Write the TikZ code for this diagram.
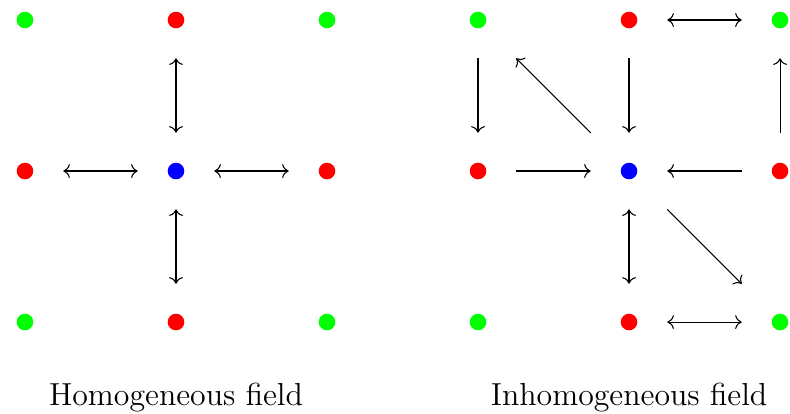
\documentclass[tikz,border=0pt]{standalone}
\usetikzlibrary{positioning, arrows.meta, calc}
\definecolor{fgreen}{RGB}{0,255,0}
\definecolor{fred}{RGB}{255,0,0}
\definecolor{fblue}{RGB}{0,0,255}
\tikzset{
  site/.style={circle, inner sep=0pt, minimum size=0.22cm},
  flow/.style={shorten <=0.39cm, shorten >=0.39cm},
  dflow/.style={shorten <=0.6cm, shorten >=0.6cm}
}

\begin{document}
\begin{tikzpicture}
    \useasboundingbox (-2.331,-3.205) rectangle (8.132,2.265);
    % homogeneous grid
    \node[site, fill=fgreen] (hTL) at (-2,2) {};
    \node[site, fill=fred]   (hT)  at (0,2) {};
    \node[site, fill=fgreen] (hTR) at (2,2) {};
    \node[site, fill=fred]   (hL)  at (-2,0) {};
    \node[site, fill=fblue]  (hC)  at (0,0) {};
    \node[site, fill=fred]   (hR)  at (2,0) {};
    \node[site, fill=fgreen] (hBL) at (-2,-2) {};
    \node[site, fill=fred]   (hB)  at (0,-2) {};
    \node[site, fill=fgreen] (hBR) at (2,-2) {};
    \draw[flow, <->] (hC) -- (hT);
    \draw[flow, <->] (hC) -- (hL);
    \draw[flow, <->] (hC) -- (hR);
    \draw[flow, <->] (hC) -- (hB);
    % inhomogeneous grid
    \node[site, fill=fgreen] (iTL) at (4,2) {};
    \node[site, fill=fred]   (iT)  at (6,2) {};
    \node[site, fill=fgreen] (iTR) at (8,2) {};
    \node[site, fill=fred]   (iL)  at (4,0) {};
    \node[site, fill=fblue]  (iC)  at (6,0) {};
    \node[site, fill=fred]   (iR)  at (8,0) {};
    \node[site, fill=fgreen] (iBL) at (4,-2) {};
    \node[site, fill=fred]   (iB)  at (6,-2) {};
    \node[site, fill=fgreen] (iBR) at (8,-2) {};
    \draw[flow, ->] (iTL) -- (iL);
    \draw[dflow, ->] (iC) -- (iTL);
    \draw[flow, ->] (iT) -- (iC);
    \draw[flow, <->] (iT) -- (iTR);
    \draw[flow, ->] (iR) -- (iTR);
    \draw[flow, ->] (iL) -- (iC);
    \draw[flow, ->] (iR) -- (iC);
    \draw[flow, <->] (iC) -- (iB);
    \draw[dflow, ->] (iC) -- (iBR);
    \draw[flow, <->] (iB) -- (iBR);
    % captions
    \node[font=\large, anchor=base] (hcap) at (0,-3.11) {Homogeneous field};
    \node[font=\large, anchor=base] (icap) at (6,-3.11) {Inhomogeneous field};
\end{tikzpicture}
\end{document}
